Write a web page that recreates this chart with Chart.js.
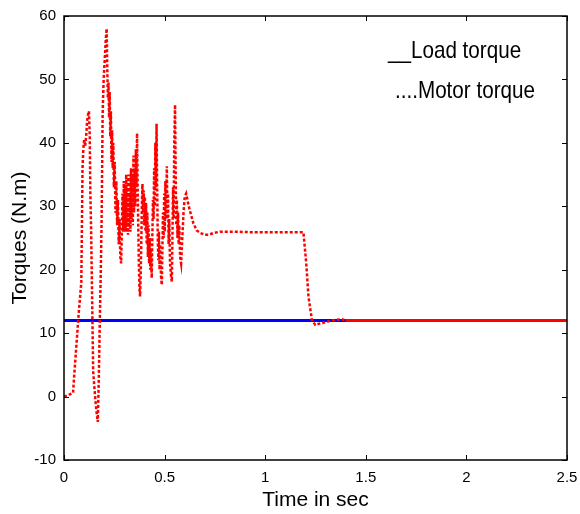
<!DOCTYPE html>
<html>
<head>
<meta charset="utf-8">
<script src="https://cdn.jsdelivr.net/npm/chart.js@4.4.0/dist/chart.umd.min.js"></script>
<style>
  html, body { margin: 0; padding: 0; background: #fff; }
  #wrap { width: 580px; height: 514px; }
</style>
</head>
<body>
<div id="wrap"><canvas id="torqueChart" width="580" height="514"></canvas></div>
<script>
// motor torque (red dotted)
const motorTime = [
  0, 0.02, 0.045, 0.05, 0.058, 0.066, 0.074, 0.082, 0.086, 0.089,
  0.092, 0.096, 0.1, 0.105, 0.11, 0.115, 0.12, 0.124, 0.128, 0.131,
  0.135, 0.14, 0.145, 0.152, 0.16, 0.168, 0.173, 0.178, 0.183, 0.187,
  0.192, 0.197, 0.204, 0.208, 0.212, 0.215, 0.218, 0.221, 0.224, 0.227,
  0.23, 0.233, 0.236, 0.239, 0.242, 0.245, 0.248, 0.252, 0.256, 0.26,
  0.264, 0.268, 0.272, 0.276, 0.28, 0.284, 0.288, 0.291, 0.294, 0.297,
  0.3, 0.303, 0.306, 0.309, 0.312, 0.315, 0.318, 0.321, 0.324, 0.327,
  0.33, 0.333, 0.336, 0.339, 0.342, 0.345, 0.348, 0.351, 0.354, 0.357,
  0.36, 0.363, 0.366, 0.369, 0.372, 0.375, 0.378, 0.381, 0.384, 0.387,
  0.39, 0.393, 0.396, 0.399, 0.402, 0.405, 0.408, 0.411, 0.414, 0.417,
  0.42, 0.423, 0.426, 0.429, 0.432, 0.436, 0.439, 0.442, 0.445, 0.448,
  0.451, 0.454, 0.457, 0.46, 0.463, 0.466, 0.469, 0.472, 0.475, 0.478,
  0.482, 0.486, 0.489, 0.492, 0.495, 0.498, 0.501, 0.504, 0.507, 0.511,
  0.514, 0.517, 0.52, 0.523, 0.527, 0.532, 0.536, 0.539, 0.542, 0.545,
  0.548, 0.552, 0.555, 0.558, 0.561, 0.564, 0.567, 0.57, 0.573, 0.577,
  0.582, 0.588, 0.594, 0.6, 0.607, 0.62, 0.643, 0.66, 0.677, 0.7,
  0.718, 0.745, 0.776, 0.84, 0.95, 1.05, 1.19, 1.204, 1.215, 1.232,
  1.249, 1.27, 1.307, 1.33, 1.357, 1.38, 1.4, 1.5, 2.5
];
const motorTorque = [
  0, 0.2, 0.6, 3, 6.5, 10, 13.5, 16.5, 18, 27,
  36, 39, 40.5, 39.5, 41, 43.5, 44.5, 45, 41, 32,
  26, 15, 4, 1, -2, -4, 3, 12, 20, 28,
  44.5, 50, 54, 56.5, 58, 52, 47, 49.5, 44, 48,
  41, 45, 37, 42, 36, 40, 33, 37, 29, 34,
  27, 31, 24, 28, 22, 21, 27, 32, 26, 34,
  27, 33, 26, 35, 27, 33, 25.5, 35, 27, 32,
  26, 36, 28, 35, 27, 38, 29, 36, 30, 39,
  33, 41.5, 33, 27, 21, 17, 15.8, 19, 24, 30,
  33.5, 29, 32.5, 27, 31.5, 26, 30.5, 24, 29, 22,
  27, 21, 25, 20, 23, 18.7, 25, 31, 28, 36,
  30, 40, 33, 43, 33, 25, 21.5, 26, 20, 24,
  19, 17.6, 23, 29, 25, 32, 26, 34, 28, 36.3,
  28, 32, 24, 28, 21, 19, 18.1, 25, 33, 28,
  40, 46, 35, 27, 31, 25, 29, 24, 27, 22,
  21, 25, 29, 31.5, 32, 30, 27.3, 26.2, 25.8, 25.5,
  25.5, 25.8, 26, 26, 25.9, 25.9, 25.9, 21, 15.8, 12.1,
  11.3, 11.5, 11.8, 12, 12.1, 12.2, 12, 12, 12
];
// load torque (blue solid)
const loadTime = [0, 2.5];
const loadTorque = [12, 12];

const xTicks = [0, 0.5, 1, 1.5, 2, 2.5];
const yTicks = [-10, 0, 10, 20, 30, 40, 50, 60];
const legendLines = ['__Load torque', '....Motor torque'];

const sans = '"Liberation Sans", Arial, sans-serif';

// box round the plot with inward ticks, like the original figure
const boxPlugin = {
  id: 'box',
  afterDraw(chart) {
    const { ctx, chartArea: a, scales } = chart;
    ctx.save();
    ctx.strokeStyle = '#000';
    ctx.lineWidth = 1.5;
    ctx.strokeRect(a.left, a.top, a.right - a.left, a.bottom - a.top);
    ctx.lineWidth = 1;
    ctx.beginPath();
    xTicks.forEach(v => {
      const px = Math.round(scales.x.getPixelForValue(v)) + 0.5;
      ctx.moveTo(px, a.bottom); ctx.lineTo(px, a.bottom - 5);
      ctx.moveTo(px, a.top); ctx.lineTo(px, a.top + 5);
    });
    yTicks.forEach(v => {
      const py = Math.round(scales.y.getPixelForValue(v)) + 0.5;
      ctx.moveTo(a.left, py); ctx.lineTo(a.left + 5, py);
      ctx.moveTo(a.right, py); ctx.lineTo(a.right - 5, py);
    });
    ctx.stroke();

    // text legend in the top right corner (squeezed a bit, like the figure font)
    ctx.fillStyle = '#000';
    ctx.font = '24px ' + sans;
    ctx.textBaseline = 'alphabetic';
    ctx.scale(0.86, 1);
    ctx.fillText(legendLines[0], 388 / 0.86, 58);
    ctx.fillText(legendLines[1], 395 / 0.86, 98);
    ctx.restore();
  }
};

const ctx = document.getElementById('torqueChart').getContext('2d');
new Chart(ctx, {
  type: 'line',
  data: {
    datasets: [
      {
        label: 'Motor torque',
        data: motorTime.map((t, i) => ({ x: t, y: motorTorque[i] })),
        borderColor: '#ff0000',
        borderWidth: 2.5,
        borderDash: [3, 2],
        pointRadius: 0,
        tension: 0,
        segment: {
          borderDash: c => c.p0.parsed.x >= 1.4 ? [] : [3, 2],
          borderWidth: c => c.p0.parsed.x >= 1.4 ? 3 : 2.5
        }
      },
      {
        label: 'Load torque',
        data: loadTime.map((t, i) => ({ x: t, y: loadTorque[i] })),
        borderColor: '#0000ff',
        borderWidth: 3,
        pointRadius: 0,
        tension: 0
      }
    ]
  },
  options: {
    responsive: false,
    animation: false,
    layout: { padding: { left: 0, top: 16, right: 13, bottom: 0 } },
    plugins: {
      legend: { display: false },
      tooltip: { enabled: false }
    },
    scales: {
      x: {
        type: 'linear',
        min: 0,
        max: 2.5,
        afterFit: s => { s.height = 54; s.paddingLeft = 0; s.paddingRight = 0; },
        afterBuildTicks: s => { s.ticks = xTicks.map(v => ({ value: v })); },
        grid: { display: false, drawTicks: false },
        border: { display: false },
        ticks: {
          color: '#000',
          padding: 9,
          maxRotation: 0,
          font: { family: sans, size: 15 },
          callback: v => String(v)
        },
        title: {
          display: true,
          text: 'Time in sec',
          color: '#000',
          padding: { top: 0, bottom: 1 },
          font: { family: sans, size: 21 }
        }
      },
      y: {
        min: -10,
        max: 60,
        afterFit: s => { s.width = 64; s.paddingTop = 0; s.paddingBottom = 0; },
        afterBuildTicks: s => { s.ticks = yTicks.map(v => ({ value: v })); },
        grid: { display: false, drawTicks: false },
        border: { display: false },
        ticks: {
          color: '#000',
          padding: 8,
          font: { family: sans, size: 15 },
          callback: v => String(v)
        },
        title: {
          display: true,
          text: 'Torques (N.m)',
          color: '#000',
          padding: { top: 8, bottom: 0 },
          font: { family: sans, size: 21 }
        }
      }
    }
  },
  plugins: [boxPlugin]
});
</script>
</body>
</html>
